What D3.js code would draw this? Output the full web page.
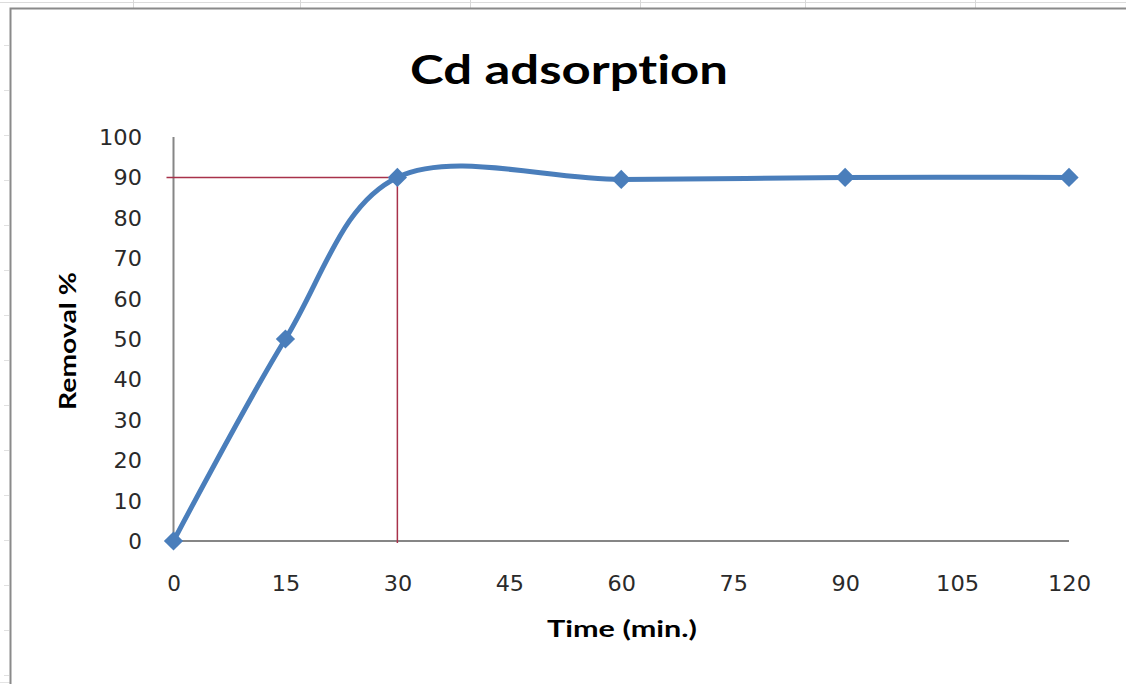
<!DOCTYPE html>
<html>
<head>
<meta charset="utf-8">
<script src="https://cdn.jsdelivr.net/npm/d3@7"></script>
<style>
  html, body { margin: 0; padding: 0; background: #fff; }
  svg { display: block; }
  text { font-variant-ligatures: none; }
</style>
</head>
<body>
<svg id="chart" width="1126" height="684"></svg>
<script>
// Contact time (min) and Cd removal (%)
const times = [0, 15, 30, 60, 90, 120];
const removal = [0, 50, 90, 89.5, 90, 90];

// Axis tick values
const xTicks = [0, 15, 30, 45, 60, 75, 90, 105, 120];
const yTicks = [0, 10, 20, 30, 40, 50, 60, 70, 80, 90, 100];

// Guide lines marking equilibrium
const guideTime = [30];
const guideRemoval = [90];

const title = "Cd adsorption";
const xTitle = "Time (min.)";
const yTitle = "Removal %";

const svg = d3.select("#chart");
const W = 1126, H = 684;

const x = d3.scaleLinear().domain([0, 120]).range([173.5, 1069]);
const y = d3.scaleLinear().domain([0, 100]).range([541, 137]);

// faint worksheet cells behind the chart
const sheet = svg.append("g");
sheet.append("line").attr("x1", 0).attr("x2", W).attr("y1", 2.5).attr("y2", 2.5)
  .attr("stroke", "#dcdcdc").attr("stroke-width", 1);
sheet.append("line").attr("x1", 0).attr("x2", W).attr("y1", 682.5).attr("y2", 682.5)
  .attr("stroke", "#e4e4e4").attr("stroke-width", 1);
[133, 300, 470, 640, 805, 975].forEach(cx => {
  sheet.append("line").attr("x1", cx + 0.5).attr("x2", cx + 0.5).attr("y1", 0).attr("y2", 8)
    .attr("stroke", "#d8d8d8");
});
[45, 90, 135, 180, 225, 270, 315, 360, 405, 450, 495, 540, 585, 630, 675].forEach(cy => {
  sheet.append("line").attr("x1", 4).attr("x2", 9).attr("y1", cy + 0.5).attr("y2", cy + 0.5)
    .attr("stroke", "#e0e0e0");
});

// chart frame
svg.append("rect").attr("x", 10.5).attr("y", 8.5).attr("width", W + 20).attr("height", 680)
  .attr("fill", "#fff").attr("stroke", "#8a8a8a").attr("stroke-width", 2);

// title
svg.append("text")
  .attr("x", 569).attr("y", 84)
  .attr("text-anchor", "middle")
  .attr("font-family", "Lato, 'Open Sans', sans-serif")
  .attr("font-weight", 700)
  .attr("font-size", 40)
  .attr("textLength", 318).attr("lengthAdjust", "spacingAndGlyphs")
  .attr("fill", "#000")
  .text(title);

// axes
const axisColor = "#868686";
const tickFont = "'DejaVu Sans', sans-serif";
const xAxis = d3.axisBottom(x).tickValues(xTicks).tickSize(0).tickPadding(0);
const gx = svg.append("g").attr("transform", `translate(0,${y(0)})`).call(xAxis);
gx.select(".domain").attr("stroke", axisColor).attr("stroke-width", 2)
  .attr("d", `M${x(0)},0H${x(120)}`);
gx.selectAll(".tick text")
  .attr("y", 50).attr("dy", 0)
  .attr("font-family", tickFont)
  .attr("font-size", 21)
  .attr("fill", "#2a2a2a")
  .attr("textLength", d => String(d).length * 14.7 - 1)
  .attr("lengthAdjust", "spacingAndGlyphs");

const yAxis = d3.axisLeft(y).tickValues(yTicks).tickSize(0).tickPadding(0);
const gy = svg.append("g").attr("transform", `translate(${x(0)},0)`).call(yAxis);
gy.select(".domain").attr("stroke", axisColor).attr("stroke-width", 2)
  .attr("d", `M0,${y(100)}V${y(0)}`);
gy.selectAll(".tick text")
  .attr("x", -31.5).attr("dy", "0.36em")
  .attr("font-family", tickFont)
  .attr("font-size", 21)
  .attr("fill", "#2a2a2a")
  .attr("textLength", d => String(d).length * 14.7 - 1)
  .attr("lengthAdjust", "spacingAndGlyphs");

// axis titles
svg.append("text")
  .attr("x", 622).attr("y", 637)
  .attr("text-anchor", "middle")
  .attr("font-family", "Lato, 'Open Sans', sans-serif")
  .attr("font-weight", 700)
  .attr("font-size", 22)
  .attr("textLength", 150).attr("lengthAdjust", "spacingAndGlyphs")
  .attr("fill", "#000")
  .text(xTitle);

svg.append("text")
  .attr("transform", `translate(76,341) rotate(-90)`)
  .attr("text-anchor", "middle")
  .attr("font-family", "Lato, 'Open Sans', sans-serif")
  .attr("font-weight", 700)
  .attr("font-size", 22)
  .attr("textLength", 138).attr("lengthAdjust", "spacingAndGlyphs")
  .attr("fill", "#000")
  .text(yTitle);

// equilibrium guide lines
const guideColor = "#a8324a";
svg.append("line")
  .attr("x1", x(0) - 7).attr("x2", x(guideTime[0]))
  .attr("y1", y(guideRemoval[0])).attr("y2", y(guideRemoval[0]))
  .attr("stroke", guideColor).attr("stroke-width", 1.5);
svg.append("line")
  .attr("x1", x(guideTime[0])).attr("x2", x(guideTime[0]))
  .attr("y1", y(guideRemoval[0])).attr("y2", y(0) + 2)
  .attr("stroke", guideColor).attr("stroke-width", 1.5);

// smoothed series line
const data = times.map((t, i) => ({ t, v: removal[i] }));
const seriesColor = "#4a7ebb";
const line = d3.line()
  .x(d => x(d.t)).y(d => y(d.v))
  .curve(d3.curveCardinal.tension(0));
svg.append("path")
  .datum(data)
  .attr("d", line)
  .attr("fill", "none")
  .attr("stroke", seriesColor)
  .attr("stroke-width", 5)
  .attr("stroke-linejoin", "round")
  .attr("stroke-linecap", "round");

// diamond markers
const diamond = d3.symbol(d3.symbolSquare, 185);
svg.append("g").selectAll("path")
  .data(data)
  .join("path")
  .attr("transform", d => `translate(${x(d.t)},${y(d.v)}) rotate(45)`)
  .attr("d", diamond)
  .attr("fill", seriesColor);
</script>
</body>
</html>
